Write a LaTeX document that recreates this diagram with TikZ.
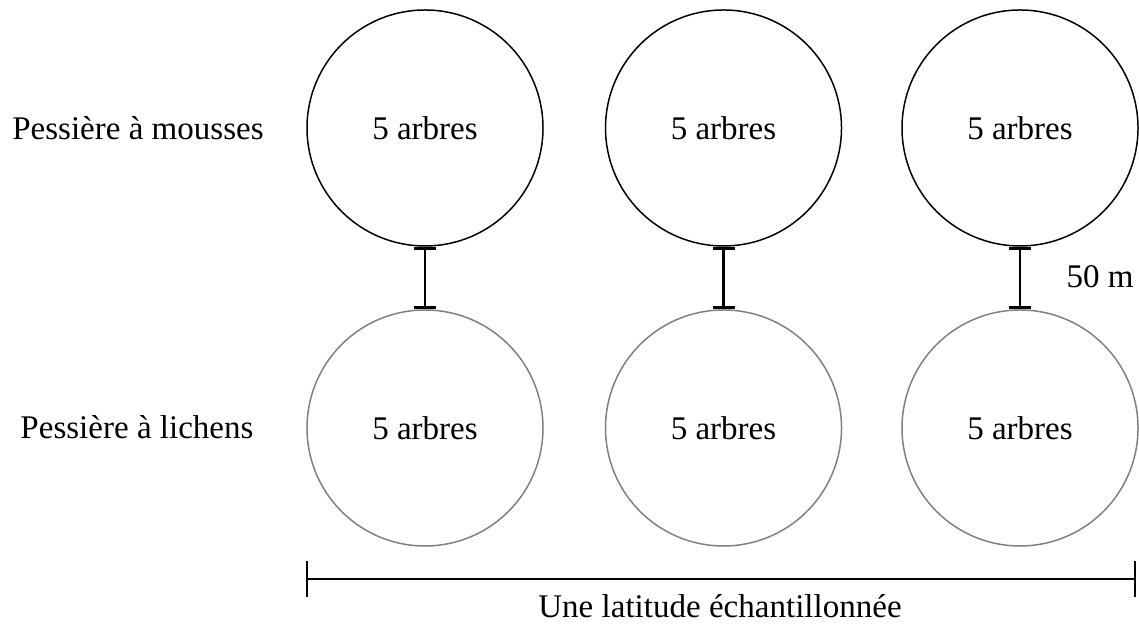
\documentclass[tikz,border=0pt]{standalone}
\usepackage{fontspec}
\setmainfont{Liberation Serif}
\usetikzlibrary{arrows.meta}
\definecolor{grislichen}{RGB}{128,128,128}
\tikzset{
    texte/.style={font=\fontsize{18.8}{22}\selectfont, inner sep=0pt},
    placette/.style={circle, draw, line width=0.85pt, minimum size=4.72cm, inner sep=0pt, texte},
    lichen/.style={placette, draw=grislichen},
    lien/.style={line width=1.2pt, {Bar[width=4.4mm,line width=1.7pt]}-{Bar[width=4.4mm,line width=1.7pt]}},
    regle/.style={line width=0.9pt, {Bar[width=7.2mm]}-{Bar[width=7.2mm]}}
}
\begin{document}
\begin{tikzpicture}
            \useasboundingbox (0, 0) rectangle (22.78, 12.48);

            \node[texte, anchor=base] (mousses) at (2.76, 9.68) {Pessière à mousses};
            \node[texte, anchor=base] (lichens) at (2.74, 3.70) {Pessière à lichens};

            \node[placette] (M1) at (8.5, 9.92) {5 arbres};
            \node[placette] (M2) at (14.47, 9.92) {5 arbres};
            \node[placette] (M3) at (20.4, 9.92) {5 arbres};

            \node[lichen] (L1) at (8.5, 3.92) {5 arbres};
            \node[lichen] (L2) at (14.47, 3.92) {5 arbres};
            \node[lichen] (L3) at (20.4, 3.92) {5 arbres};

            \draw[lien] (M1.south) -- (L1.north);
            \draw[lien] (M2.south) -- (L2.north);
            \draw[lien] (M3.south) -- (L3.north);

            \node[texte, anchor=base] (distance) at (22.0, 6.72) {50 m};

            \coordinate (G) at (6.12, 0.9);
            \coordinate (D) at (22.72, 0.9);
            \draw[regle] (G) -- (D);
            \node[texte, anchor=base] (latitude) at (14.4, 0.12) {Une latitude échantillonnée};
        \end{tikzpicture}
\end{document}
